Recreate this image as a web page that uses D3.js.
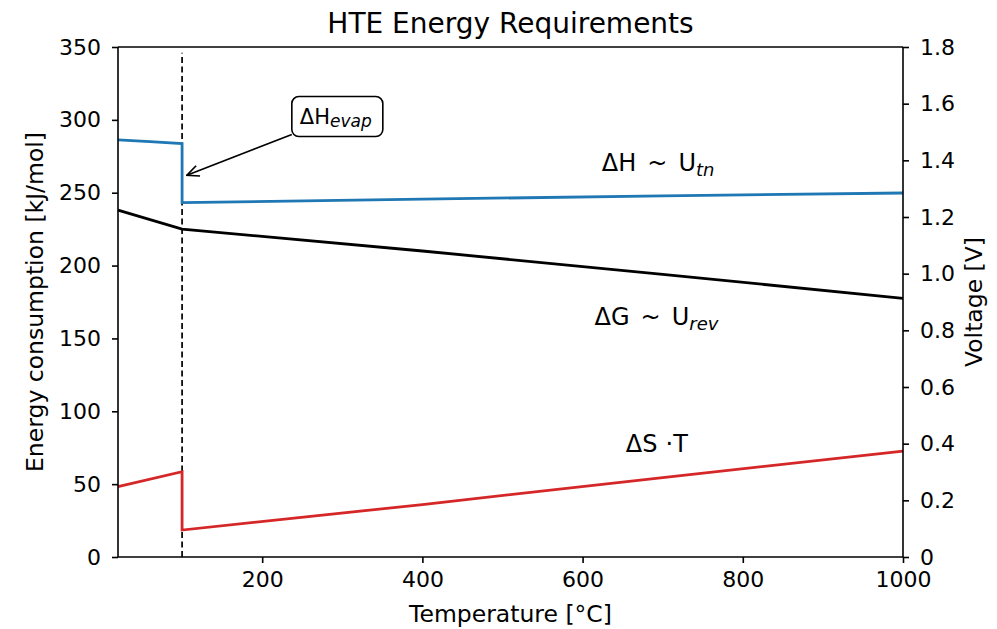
<!DOCTYPE html>
<html>
<head>
<meta charset="utf-8">
<script src="https://cdn.jsdelivr.net/npm/d3@7"></script>
<style>
  body { margin: 0; background: #fff; }
  text { font-family: "DejaVu Sans", sans-serif; fill: #000; }
</style>
</head>
<body>
<div id="chart"></div>
<script>
// data (temperature in °C, energy in kJ/mol)
var dH_liquid_T = [20, 60, 100];
var dH_liquid = [286.2, 285.0, 283.7];
var dH_vapor_T = [100, 400, 700, 1000];
var dH_vapor = [243.2, 245.6, 247.8, 249.8];

var dG_T = [20, 100, 400, 700, 1000];
var dG = [238.0, 225.0, 210.0, 194.0, 177.5];

var dS_liquid_T = [20, 100];
var dS_liquid = [48.3, 58.5];
var dS_vapor_T = [100, 400, 700, 1000];
var dS_vapor = [18.5, 36.0, 54.5, 72.7];

var xTicks = [200, 400, 600, 800, 1000];
var yTicks = [0, 50, 100, 150, 200, 250, 300, 350];
var vTicks = [0, 0.2, 0.4, 0.6, 0.8, 1.0, 1.2, 1.4, 1.6, 1.8];
var vTickLabels = ["0", "0.2", "0.4", "0.6", "0.8", "1.0", "1.2", "1.4", "1.6", "1.8"];

var evapT = 100;

var margin = {top: 47, right: 94, bottom: 72, left: 118};
var W = 997, H = 629;
var width = W - margin.left - margin.right,
    height = H - margin.top - margin.bottom;

var svg = d3.select("#chart").append("svg")
    .attr("width", W)
    .attr("height", H);

var g = svg.append("g")
    .attr("transform", "translate(" + margin.left + "," + margin.top + ")");

var x = d3.scaleLinear().domain([20, 1000]).range([0, width]);
var y = d3.scaleLinear().domain([0, 350]).range([height, 0]);
var yv = d3.scaleLinear().domain([0, 1.8]).range([height, 0]);

var line = d3.line()
    .x(function (d) { return x(d[0]); })
    .y(function (d) { return y(d[1]); });

function pairs(ts, vs) {
    return ts.map(function (t, i) { return [t, vs[i]]; });
}

// evaporation marker
g.append("line")
    .attr("x1", x(evapT)).attr("x2", x(evapT))
    .attr("y1", y(0)).attr("y2", y(346))
    .attr("stroke", "#000")
    .attr("stroke-width", 1.7)
    .attr("stroke-dasharray", "6,3.5");

// ΔH with the step at 100 °C
g.append("path")
    .datum(pairs(dH_liquid_T, dH_liquid).concat(pairs(dH_vapor_T, dH_vapor)))
    .attr("d", line)
    .attr("fill", "none")
    .attr("stroke", "#1f77b4")
    .attr("stroke-width", 2.8);

g.append("path")
    .datum(pairs(dG_T, dG))
    .attr("d", line)
    .attr("fill", "none")
    .attr("stroke", "#000")
    .attr("stroke-width", 2.8);

g.append("path")
    .datum(pairs(dS_liquid_T, dS_liquid).concat(pairs(dS_vapor_T, dS_vapor)))
    .attr("d", line)
    .attr("fill", "none")
    .attr("stroke", "#d62728")
    .attr("stroke-width", 2.8);

// axes
var fs = "22px";

var xAxis = g.append("g")
    .attr("transform", "translate(0," + height + ")")
    .call(d3.axisBottom(x).tickValues(xTicks).tickFormat(d3.format("d"))
        .tickSize(6).tickPadding(8));

var yAxis = g.append("g")
    .call(d3.axisLeft(y).tickValues(yTicks).tickSize(6).tickPadding(11));

var vAxis = g.append("g")
    .attr("transform", "translate(" + width + ",0)")
    .call(d3.axisRight(yv).tickValues(vTicks)
        .tickFormat(function (d, i) { return vTickLabels[i]; })
        .tickSize(6).tickPadding(11));

g.append("line")
    .attr("x1", 0).attr("x2", width)
    .attr("y1", 0).attr("y2", 0)
    .attr("stroke", "#000").attr("stroke-width", 1.6);

[xAxis, yAxis, vAxis].forEach(function (a) {
    a.selectAll("text").style("font-size", fs).style("font-family", "DejaVu Sans");
    a.selectAll("path, line").attr("stroke", "#000").attr("stroke-width", 1.6);
});
xAxis.select(".domain").attr("d", "M0,0H" + width);
yAxis.select(".domain").attr("d", "M0," + height + "V0");
vAxis.select(".domain").attr("d", "M0," + height + "V0");

// titles
svg.append("text")
    .attr("x", margin.left + width / 2)
    .attr("y", 33)
    .attr("text-anchor", "middle")
    .style("font-size", "28px")
    .text("HTE Energy Requirements");

svg.append("text")
    .attr("x", margin.left + width / 2)
    .attr("y", 622)
    .attr("text-anchor", "middle")
    .style("font-size", "23.5px")
    .text("Temperature [°C]");

svg.append("text")
    .attr("transform", "translate(43," + (margin.top + height / 2) + ") rotate(-90)")
    .attr("text-anchor", "middle")
    .style("font-size", "23.5px")
    .text("Energy consumption [kJ/mol]");

svg.append("text")
    .attr("transform", "translate(982," + (margin.top + height / 2) + ") rotate(-90)")
    .attr("text-anchor", "middle")
    .style("font-size", "23.5px")
    .text("Voltage [V]");

// curve labels
function label(tx, ty, parts) {
    var t = g.append("text")
        .attr("x", tx).attr("y", ty)
        .style("font-size", "24px");
    parts.forEach(function (p) {
        var s = t.append("tspan").text(p.t);
        if (p.dx) s.attr("dx", p.dx);
        if (p.sub) {
            s.attr("dy", 5).style("font-size", "18px").style("font-style", "italic");
        }
    });
    return t;
}

label(x(624), y(265), [{t: "\u0394H"}, {t: "~", dx: 11}, {t: "U", dx: 11}, {t: "tn", sub: true}]);
label(x(615), y(159), [{t: "\u0394G"}, {t: "~", dx: 11}, {t: "U", dx: 11}, {t: "rev", sub: true}]);
label(x(654), y(72), [{t: "\u0394S"}, {t: "\u00b7", dx: 8}, {t: "T"}]);

// annotation box with arrow
var box = g.append("g");
var bx = x(237), by = y(316);
box.append("rect")
    .attr("x", bx).attr("y", by)
    .attr("width", 91).attr("height", 40)
    .attr("rx", 7)
    .attr("fill", "#fff")
    .attr("stroke", "#000")
    .attr("stroke-width", 1.6);
var bt = box.append("text")
    .attr("x", bx + 8).attr("y", by + 27)
    .style("font-size", "21px");
bt.append("tspan").text("\u0394H");
bt.append("tspan").attr("dy", 3).style("font-size", "17px").style("font-style", "italic").text("evap");

svg.append("defs").append("marker")
    .attr("id", "arr")
    .attr("viewBox", "0 0 14 14")
    .attr("refX", 13).attr("refY", 7)
    .attr("markerWidth", 14).attr("markerHeight", 14)
    .attr("markerUnits", "userSpaceOnUse")
    .attr("orient", "auto")
    .append("path")
    .attr("d", "M1,1.5 L13,7 L1,12.5")
    .attr("fill", "none")
    .attr("stroke", "#000")
    .attr("stroke-width", 1.7);

g.append("line")
    .attr("x1", bx).attr("y1", by + 38)
    .attr("x2", x(106)).attr("y2", y(262))
    .attr("stroke", "#000")
    .attr("stroke-width", 1.7)
    .attr("marker-end", "url(#arr)");
</script>
</body>
</html>
